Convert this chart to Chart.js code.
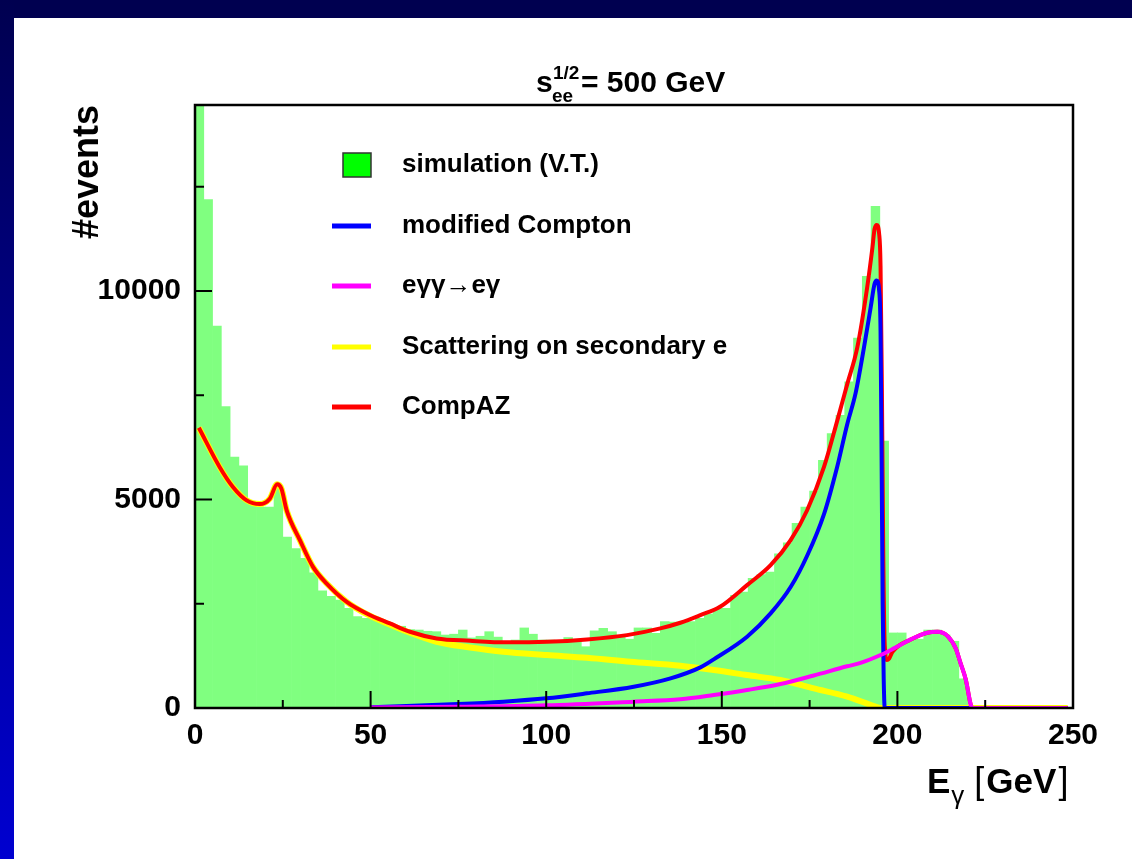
<!DOCTYPE html>
<html>
<head>
<meta charset="utf-8">
<script src="https://cdn.jsdelivr.net/npm/chart.js@4.4.0/dist/chart.umd.min.js"></script>
<style>
  html, body { margin: 0; padding: 0; background: #fff; }
</style>
</head>
<body>
<canvas id="grafico" width="1132" height="859"></canvas>
<script>
// histograma: 100 bins de 2.5 GeV entre 0 y 250
const anchoBin = 2.5;
const conteos = [
  16000, 12190, 9160, 7230, 6020, 5810, 4890, 4820, 4820, 5340,
  4100, 3820, 3590, 3240, 2810, 2680, 2590, 2390, 2190, 2150,
  2180, 2060, 1990, 1960, 1880, 1870, 1840, 1830, 1750, 1770,
  1870, 1680, 1720, 1830, 1700, 1530, 1630, 1920, 1770, 1630,
  1630, 1620, 1690, 1640, 1470, 1850, 1910, 1830, 1710, 1650,
  1920, 1920, 1790, 2070, 2060, 2030, 2070, 2150, 2250, 2390,
  2390, 2700, 2780, 3110, 3200, 3260, 3700, 3960, 4430, 4820,
  5200, 5940, 6580, 7020, 7820, 8870, 10350, 12030, 6400, 1800,
  1800, 1650, 1650, 1870, 1870, 1750, 1600, 700, 0, 0,
  0, 0, 0, 0, 0, 0, 0, 0, 0, 0
];

// CompAZ (rojo)
const rojoE = [1.1, 7, 10.8, 14.7, 18.4, 21.3, 23.4, 24.6, 26.1, 29.9, 33.6, 37.5, 43.2, 48.9, 55.5,
  61.2, 68.8, 78.3, 88.8, 100.2, 111.6, 123, 132.5, 138.2, 143.9, 149.5, 157.2, 163.9, 169.6, 174.3,
  179.1, 182.9, 185.7, 188.6, 191.4, 192.9, 193.5, 194.1, 194.8, 195.2, 195.6, 196.0, 196.4, 197.0, 197.6,
  198.6, 203.8, 208.5, 211.4, 214.3, 216.6, 218, 219.5, 220.9, 221.3, 248.5];
const rojoN = [6720, 5780, 5300, 4980, 4890, 5020, 5365, 5260, 4740, 4020, 3385, 2985, 2546, 2268, 2028,
  1828, 1669, 1612, 1574, 1588, 1645, 1748, 1909, 2044, 2227, 2427, 2946, 3425, 4024, 4743,
  5780, 6898, 7760, 8654, 10090, 11050, 11490, 11585, 11370, 10600, 7500, 3500, 1500, 1150, 1180,
  1350, 1645, 1804, 1828, 1725, 1430, 1070, 670, 72, 0, 0];

// modified Compton (azul)
const azulE = [50, 75, 87.8, 100, 111.6, 124.9, 135.4, 143.9, 147.7, 157.2, 163.9, 169.6, 174.3, 179.1,
  182.9, 185.7, 188.1, 190.5, 192.4, 193.5, 194.1, 194.8, 195.2, 195.5, 195.8, 196.1, 196.4, 248.5];
const azulN = [20, 96, 152, 232, 352, 510, 711, 975, 1166, 1708, 2268, 2900, 3650, 4650,
  5800, 6800, 7550, 8654, 9612, 10172, 10250, 10010, 9050, 6000, 2500, 700, 0, 0];

// e gamma gamma -> e gamma (magenta)
const magentaE = [50, 75, 100, 124.9, 138.2, 147.7, 157.2, 166.7, 176.2, 185.7, 189.5, 195.2, 199,
  203.8, 208.5, 211.4, 214.3, 216.6, 218, 219.5, 220.9, 221.3, 248.5];
const magentaN = [10, 30, 64, 152, 208, 311, 431, 575, 780, 1000, 1080, 1270, 1430,
  1645, 1804, 1828, 1725, 1430, 1070, 670, 72, 0, 0];

// scattering on secondary e (amarillo)
const amarilloE = [1.1, 7, 10.8, 14.7, 18.4, 21.3, 23.4, 24.6, 26.1, 29.9, 33.6, 37.5, 43.2, 48.9, 59.3,
  68.8, 78.3, 87.8, 100.2, 111.6, 124, 138.2, 147.7, 157.2, 166.7, 176.2, 185.7, 193.3, 195.2, 248.5];
const amarilloN = [6720, 5780, 5300, 4980, 4890, 5020, 5365, 5260, 4740, 4020, 3385, 2985, 2546, 2250, 1868,
  1588, 1453, 1349, 1270, 1205, 1110, 1014, 910, 790, 670, 470, 272, 48, 0, 0];

const ticksX = [0, 50, 100, 150, 200, 250];
const ticksY = [0, 5000, 10000];
const maxY = 14460;

const fuente = "'Liberation Sans', Arial, Helvetica, sans-serif";

const aPuntos = (xs, ys) => xs.map((x, i) => ({ x: x, y: ys[i] }));
const puntosHist = conteos.map((n, i) => ({ x: (i + 0.5) * anchoBin, y: n }));

const lineaBase = {
  type: 'line',
  pointRadius: 0,
  borderWidth: 4,
  fill: false,
  cubicInterpolationMode: 'monotone'
};

// fondo, marco, ticks hacia adentro, leyenda y titulos
const marco = {
  id: 'marco',
  beforeDraw(chart) {
    const c = chart.ctx;
    c.save();
    c.fillStyle = '#ffffff';
    c.fillRect(0, 0, chart.width, chart.height);
    c.fillStyle = '#000050';
    c.fillRect(0, 0, chart.width, 18);
    const grad = c.createLinearGradient(0, 0, 0, chart.height);
    grad.addColorStop(0, '#000050');
    grad.addColorStop(1, '#0000d0');
    c.fillStyle = grad;
    c.fillRect(0, 0, 14, chart.height);
    c.restore();
  },
  afterDatasetsDraw(chart) {
    const c = chart.ctx;
    const a = chart.chartArea;
    const sx = chart.scales.x;
    const sy = chart.scales.y;
    c.save();
    c.strokeStyle = '#000';
    c.lineWidth = 2;
    for (let v = 0; v <= 250; v += 25) {
      const px = sx.getPixelForValue(v);
      const largo = v % 50 === 0 ? 17 : 8;
      c.beginPath();
      c.moveTo(px, a.bottom);
      c.lineTo(px, a.bottom - largo);
      c.stroke();
    }
    for (let v = 0; v <= maxY; v += 2500) {
      const py = sy.getPixelForValue(v);
      const largo = v % 5000 === 0 ? 17 : 9;
      c.beginPath();
      c.moveTo(a.left, py);
      c.lineTo(a.left + largo, py);
      c.stroke();
    }
    c.lineWidth = 2.5;
    c.strokeRect(a.left, a.top, a.right - a.left, a.bottom - a.top);
    c.restore();
  },
  afterDraw(chart) {
    const c = chart.ctx;
    c.save();
    c.fillStyle = '#000';
    c.textBaseline = 'middle';

    // leyenda: histograma, azul, magenta, amarillo, rojo
    const orden = [4, 1, 2, 3, 0];
    const filasY = [165, 226, 286, 347, 407];
    c.font = 'bold 26px ' + fuente;
    orden.forEach((idx, k) => {
      const ds = chart.data.datasets[idx];
      const y = filasY[k];
      if (ds.type === 'bar') {
        c.fillStyle = '#00ff00';
        c.fillRect(343, y - 12, 28, 24);
        c.strokeStyle = '#333';
        c.lineWidth = 1.5;
        c.strokeRect(343, y - 12, 28, 24);
      } else {
        c.strokeStyle = ds.borderColor;
        c.lineWidth = 5;
        c.beginPath();
        c.moveTo(332, y);
        c.lineTo(371, y);
        c.stroke();
      }
      c.fillStyle = '#000';
      c.textAlign = 'left';
      c.fillText(ds.label, 402, y);
    });

    // titulo superior
    c.textBaseline = 'alphabetic';
    c.textAlign = 'left';
    c.font = 'bold 30px ' + fuente;
    c.fillText('s', 536, 92);
    c.font = 'bold 19px ' + fuente;
    c.fillText('1/2', 553, 79);
    c.fillText('ee', 552, 102);
    c.font = 'bold 30px ' + fuente;
    c.fillText('= 500 GeV', 581, 92);

    // titulo eje x
    let x = 927;
    c.font = 'bold 35px ' + fuente;
    c.fillText('E', x, 793);
    x += c.measureText('E').width + 1;
    c.font = '26px ' + fuente;
    c.fillText('\u03b3', x, 804);
    x += c.measureText('\u03b3').width + 10;
    c.font = '36px ' + fuente;
    c.fillText('[', x, 793);
    x += c.measureText('[').width + 2;
    c.font = 'bold 35px ' + fuente;
    c.fillText('GeV', x, 793);
    x += c.measureText('GeV').width + 2;
    c.font = '36px ' + fuente;
    c.fillText(']', x, 793);
    c.restore();
  }
};

const ctx = document.getElementById('grafico').getContext('2d');
new Chart(ctx, {
  type: 'bar',
  data: {
    datasets: [
      Object.assign({}, lineaBase, { label: 'CompAZ', data: aPuntos(rojoE, rojoN), borderColor: '#ff0000', order: 2 }),
      Object.assign({}, lineaBase, { label: 'modified Compton', data: aPuntos(azulE, azulN), borderColor: '#0000ff', order: 1 }),
      Object.assign({}, lineaBase, { label: 'e\u03b3\u03b3\u2192e\u03b3', data: aPuntos(magentaE, magentaN), borderColor: '#ff00ff', order: 0 }),
      Object.assign({}, lineaBase, { label: 'Scattering on secondary e', data: aPuntos(amarilloE, amarilloN), borderColor: '#ffff00', borderWidth: 6, order: 3 }),
      {
        type: 'bar',
        label: 'simulation (V.T.)',
        data: puntosHist,
        backgroundColor: '#80ff80',
        borderWidth: 0,
        barPercentage: 1,
        categoryPercentage: 1,
        order: 4
      }
    ]
  },
  options: {
    responsive: false,
    animation: false,
    devicePixelRatio: 1,
    layout: { padding: { top: 105, right: 59, bottom: 0, left: 0 } },
    plugins: {
      legend: { display: false },
      tooltip: { enabled: false }
    },
    scales: {
      x: {
        type: 'linear',
        min: 0,
        max: 250,
        offset: false,
        grid: { display: false, offset: false },
        border: { display: false },
        ticks: {
          color: '#000',
          padding: 2,
          maxRotation: 0,
          font: { family: fuente, size: 30, weight: 'bold' },
          callback: v => String(v)
        },
        afterBuildTicks: s => { s.ticks = ticksX.map(v => ({ value: v })); },
        afterFit: s => { s.height = 151; }
      },
      y: {
        type: 'linear',
        min: 0,
        max: maxY,
        grid: { display: false },
        border: { display: false },
        ticks: {
          color: '#000',
          padding: 6,
          font: { family: fuente, size: 30, weight: 'bold' },
          callback: v => String(v)
        },
        afterBuildTicks: s => { s.ticks = ticksY.map(v => ({ value: v })); },
        afterFit: s => { s.width = 195; },
        title: {
          display: true,
          text: '#events',
          align: 'end',
          color: '#000',
          padding: { top: 66, bottom: 0 },
          font: { family: fuente, size: 36, weight: 'bold' }
        }
      }
    }
  },
  plugins: [marco]
});
</script>
</body>
</html>
